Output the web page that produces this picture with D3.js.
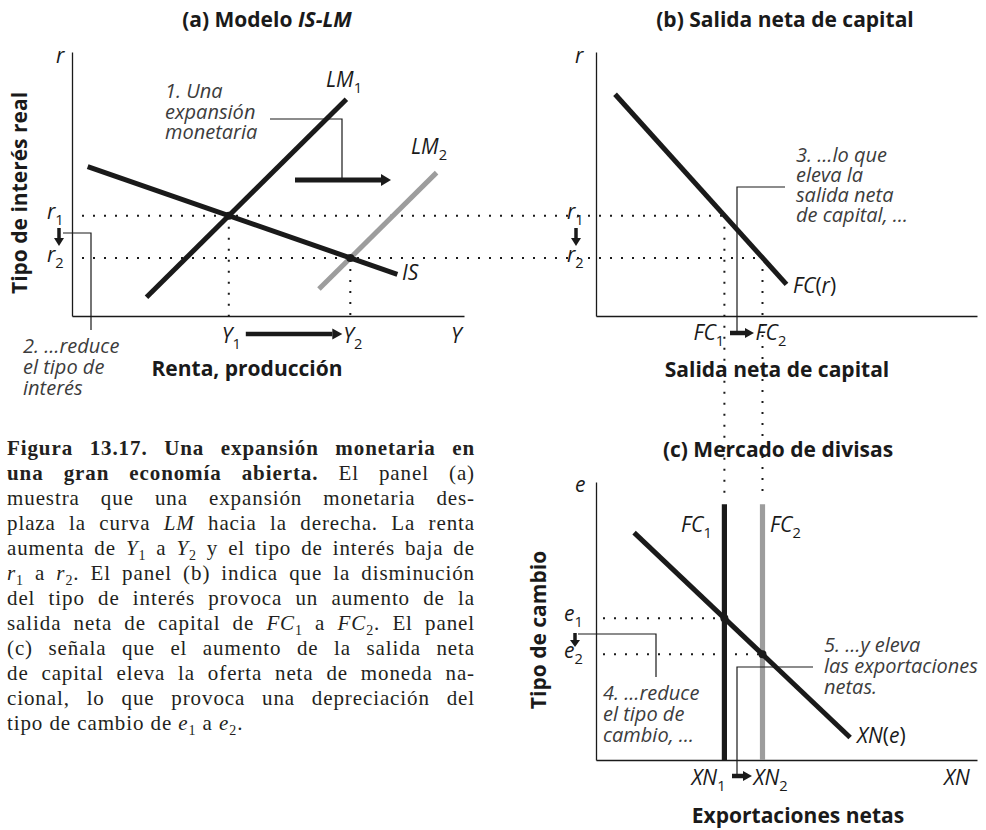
<!DOCTYPE html>
<html lang="es">
<head>
<meta charset="utf-8">
<title>Figura 13.17</title>
<script src="https://d3js.org/d3.v7.min.js"></script>
<style>
  body { margin: 0; background: #fff; }
  svg text { font-family: "Open Sans", Lato, sans-serif; }
  svg text.cap { font-family: "Liberation Serif", "DejaVu Serif", serif; letter-spacing: 0.9px; }
</style>
</head>
<body>
<script>
const svgW = 986, svgH = 830;
const ink = "#1a1a1a", grey = "#9d9d9d", note = "#3c3c3c";

// (a) IS-LM, both axes 0..100
const lm1 = [[19, 7.1], [70, 82.1]];
const lm2 = [[63, 10.2], [93, 54.3]];
const isLine = [[4, 56.6], [83, 15.8]];
const outY = [40, 71];        // Y1, Y2
const rateR = [38, 22];       // r1, r2
// (b) salida neta de capital
const fcLine = [[5, 84], [50, 12]];
const fcVals = [33.7, 43.7];  // FC1, FC2
// (c) mercado de divisas
const xnLine = [[10, 81.8], [66.7, 8.1]];
const rateE = [51, 38];       // e1, e2
const fcTop = 92;

const svg = d3.select("body").append("svg")
    .attr("width", svgW)
    .attr("height", svgH);

const xA = d3.scaleLinear().domain([0, 100]).range([72, 464]);
const yA = d3.scaleLinear().domain([0, 100]).range([316, 52]);
const xB = d3.scaleLinear().domain([0, 100]).range([596, 977]);
const yB = yA;
const xC = xB;
const yC = d3.scaleLinear().domain([0, 100]).range([760, 482]);

//helpers
function axes(x, y) {
    svg.append("g").attr("transform", "translate(0," + y.range()[0] + ")")
        .call(d3.axisBottom(x).tickValues([]).tickSizeOuter(0))
        .select(".domain").attr("stroke", ink).attr("stroke-width", 1.3);
    svg.append("g").attr("transform", "translate(" + x.range()[0] + ",0)")
        .call(d3.axisLeft(y).tickValues([]).tickSizeOuter(0))
        .select(".domain").attr("stroke", ink).attr("stroke-width", 1.3);
}

function curve(pts, x, y, color) {
    const line = d3.line().x(d => x(d[0])).y(d => y(d[1]));
    svg.append("path").datum(pts)
        .attr("d", line)
        .attr("fill", "none")
        .attr("stroke", color)
        .attr("stroke-width", 5);
}

function dotted(x1, y1, x2, y2) {
    svg.append("line")
        .attr("x1", x1).attr("y1", y1).attr("x2", x2).attr("y2", y2)
        .attr("stroke", ink).attr("stroke-width", 2)
        .attr("stroke-dasharray", "2 9");
}

function thin(d) {
    svg.append("path").attr("d", d).attr("fill", "none")
        .attr("stroke", ink).attr("stroke-width", 1.2);
}

function arrow(x1, y1, x2, y2, w, hl, hw) {
    const a = Math.atan2(y2 - y1, x2 - x1);
    const bx = x2 - hl * Math.cos(a), by = y2 - hl * Math.sin(a);
    svg.append("line").attr("x1", x1).attr("y1", y1).attr("x2", bx).attr("y2", by)
        .attr("stroke", ink).attr("stroke-width", w);
    const px = -Math.sin(a) * hw, py = Math.cos(a) * hw;
    svg.append("path")
        .attr("d", `M${x2},${y2}L${bx + px},${by + py}L${bx - px},${by - py}Z`)
        .attr("fill", ink);
}

// italic label, optional subscript and tail e.g. FC(r)
function label(x, y, main, sub, size, tail) {
    const t = svg.append("text").attr("x", x).attr("y", y)
        .attr("font-size", size).attr("fill", ink);
    t.append("tspan").attr("font-style", "italic").text(main);
    if (sub) t.append("tspan").attr("dy", 6).attr("font-size", size * 0.7).text(sub);
    if (tail) tail.forEach(p => t.append("tspan").attr("font-style", p[1] ? "italic" : "normal").text(p[0]));
    return t;
}

function noteText(x, y, lines, step) {
    const t = svg.append("text").attr("x", x).attr("y", y)
        .attr("font-size", 20).attr("font-style", "italic").attr("fill", note);
    lines.forEach((l, i) => t.append("tspan").attr("x", x).attr("dy", i ? step : 0).text(l));
}

function bold(x, y, txt, size, rot) {
    const t = svg.append("text").attr("font-size", size).attr("font-weight", "bold")
        .attr("fill", ink).attr("text-anchor", "middle");
    if (rot) t.attr("transform", `translate(${x},${y}) rotate(-90)`);
    else t.attr("x", x).attr("y", y);
    return t.text(txt);
}

// panel titles
const ta = svg.append("text").attr("x", 267).attr("y", 27).attr("text-anchor", "middle")
    .attr("font-size", 21).attr("font-weight", "bold").attr("fill", ink);
ta.append("tspan").text("(a) Modelo ");
ta.append("tspan").attr("font-style", "italic").text("IS-LM");
bold(785, 27, "(b) Salida neta de capital", 21);
bold(778, 457, "(c) Mercado de divisas", 21);

// dotted guides (drawn first, under curves)
rateR.forEach((r, i) => dotted(xA(0) + 10, yA(r), xB(fcVals[i]), yA(r)));
outY.forEach((v, i) => dotted(xA(v), yA(rateR[i]), xA(v), yA(0)));
fcVals.forEach((v, i) => dotted(xB(v), yB(rateR[i]), xB(v), yC(95)));
rateE.forEach((e, i) => dotted(xC(0) + 7, yC(e), xC(fcVals[i]), yC(e)));

// ---- panel (a)
axes(xA, yA);
curve(lm2, xA, yA, grey);
curve(lm1, xA, yA, ink);
curve(isLine, xA, yA, ink);
svg.selectAll(".dotA").data(outY).enter().append("circle")
    .attr("cx", d => xA(d)).attr("cy", (d, i) => yA(rateR[i])).attr("r", 4).attr("fill", ink);

label(56, 63, "r", null, 21);
label(xA(0) - 25, yA(rateR[0]) + 3, "r", "1", 21);
label(xA(0) - 25, yA(rateR[1]) + 4, "r", "2", 21);
arrow(59, 228, 59, 246, 3.5, 8, 5);
thin("M63,233H91V330");
noteText(23, 353, ["2. …reduce", "el tipo de", "interés"], 21);

label(xA(outY[0]) - 7, 343, "Y", "1", 21);
label(xA(outY[1]) - 7, 343, "Y", "2", 21);
arrow(xA(outY[0]) + 17, 334, xA(outY[1]) - 8, 334, 4.5, 10, 5.5);
label(451, 343, "Y", null, 21);

noteText(165, 98, ["1. Una", "expansión", "monetaria"], 20.5);
thin("M270,119H342V180");
arrow(295, 180, 391, 180, 5, 10, 6);
label(326, 87, "LM", "1", 21);
label(411, 154, "LM", "2", 21);
label(402, 280, "IS", null, 21);

bold(247, 376, "Renta, producción", 21);
bold(27, 193, "Tipo de interés real", 21, true);

// ---- panel (b)
axes(xB, yB);
curve(fcLine, xB, yB, ink);
label(575, 63, "r", null, 21);
label(567, yB(rateR[0]) + 3, "r", "1", 21);
label(567, yB(rateR[1]) + 4, "r", "2", 21);
arrow(576, 228, 576, 246, 3.5, 8, 5);
label(793, 293, "FC", null, 21, [["(", false], ["r", true], [")", false]]);
noteText(796, 162, ["3. …lo que", "eleva la", "salida neta", "de capital, …"], 20);
thin("M785,187H737V333");
arrow(730, 333, 754, 333, 4.5, 9, 5);
label(xB(fcVals[0]) - 31, 340, "FC", "1", 21);
label(xB(fcVals[1]) - 7, 340, "FC", "2", 21);
bold(777, 377, "Salida neta de capital", 21);

// ---- panel (c)
axes(xC, yC);
svg.selectAll(".fcv").data(fcVals).enter().append("line")
    .attr("x1", d => xC(d)).attr("x2", d => xC(d))
    .attr("y1", yC(0)).attr("y2", yC(fcTop))
    .attr("stroke", (d, i) => i ? grey : ink).attr("stroke-width", 5.2);
curve(xnLine, xC, yC, ink);
svg.selectAll(".dotC").data(rateE).enter().append("circle")
    .attr("cx", (d, i) => xC(fcVals[i])).attr("cy", d => yC(d)).attr("r", 4).attr("fill", ink);

label(575, 492, "e", null, 21);
label(564, yC(rateE[0]) + 3, "e", "1", 21);
label(564, yC(rateE[1]) + 4, "e", "2", 21);
arrow(575, 633, 575, 647, 3.5, 7, 5);
thin("M578,634H656V677");
noteText(603, 700, ["4. …reduce", "el tipo de", "cambio, …"], 21);
noteText(824, 652, ["5. …y eleva", "las exportaciones", "netas."], 21);
thin("M813,667H737V776");
arrow(732, 776, 752, 776, 4.5, 9, 5);
label(681, 532, "FC", "1", 21);
label(770, 532, "FC", "2", 21);
label(857, 743, "XN", null, 21, [["(", false], ["e", true], [")", false]]);
label(xC(fcVals[0]) - 33, 785, "XN", "1", 21);
label(xC(fcVals[1]) - 9, 785, "XN", "2", 21);
label(944, 785, "XN", null, 21);
bold(798, 823, "Exportaciones netas", 21);
bold(546, 630, "Tipo de cambio", 21, true);

// ---- caption, justified
const captionLines = [
    [["Figura 13.17. Una expansión monetaria en", "b"]],
    [["una gran economía abierta.", "b"], [" El panel (a)"]],
    [["muestra que una expansión monetaria des-"]],
    [["plaza la curva "], ["LM", "i"], [" hacia la derecha. La renta"]],
    [["aumenta de "], ["Y", "i"], ["1", "s"], [" a "], ["Y", "i"], ["2", "s"], [" y el tipo de interés baja de"]],
    [["r", "i"], ["1", "s"], [" a "], ["r", "i"], ["2", "s"], [". El panel (b) indica que la disminución"]],
    [["del tipo de interés provoca un aumento de la"]],
    [["salida neta de capital de "], ["FC", "i"], ["1", "s"], [" a "], ["FC", "i"], ["2", "s"], [". El panel"]],
    [["(c) señala que el aumento de la salida neta"]],
    [["de capital eleva la oferta neta de moneda na-"]],
    [["cional, lo que provoca una depreciación del"]],
    [["tipo de cambio de "], ["e", "i"], ["1", "s"], [" a "], ["e", "i"], ["2", "s"], ["."]]
];
const capX = 7, capW = 468, capY = 455, capStep = 25;

captionLines.forEach((segs, li) => {
    const t = svg.append("text").attr("class", "cap")
        .attr("x", capX).attr("y", capY + li * capStep)
        .attr("font-size", 21).attr("fill", "#231f20");
    let low = false;
    segs.forEach(s => {
        const sp = t.append("tspan").text(s[0]);
        if (s[1] === "b") sp.attr("font-weight", "bold");
        if (s[1] === "i") sp.attr("font-style", "italic");
        if (s[1] === "s") { sp.attr("font-size", 14).attr("dy", 5); low = true; }
        else if (low) { sp.attr("dy", -5); low = false; }
    });
    if (li < captionLines.length - 1) {
        const len = t.node().getComputedTextLength();
        const spaces = segs.map(s => s[0]).join("").split(" ").length - 1;
        t.style("word-spacing", ((capW - len) / spaces) + "px");
    }
});
</script>
</body>
</html>
